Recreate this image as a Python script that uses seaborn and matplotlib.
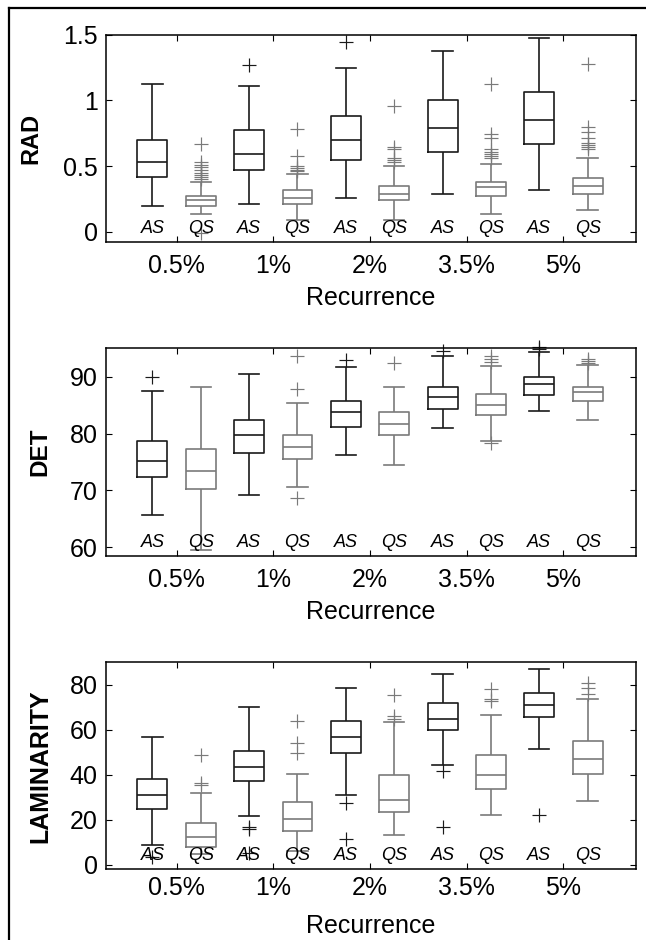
import pandas as pd
import seaborn as sns
import matplotlib.pyplot as plt
from matplotlib.lines import Line2D
from matplotlib.transforms import blended_transform_factory

# Recurrence levels and box positions (AS left, QS right in each pair)
recurrence = ['0.5%', '1%', '2%', '3.5%', '5%']
as_pos = [1, 3, 5, 7, 9]
qs_pos = [2, 4, 6, 8, 10]
group_ticks = [1.5, 3.5, 5.5, 7.5, 9.5]

# box stats per recurrence level: [whisker low, q1, median, q3, whisker high]
rad_as = [[0.20, 0.415, 0.533, 0.70, 1.125],
          [0.215, 0.47, 0.59, 0.776, 1.106],
          [0.26, 0.545, 0.70, 0.88, 1.244],
          [0.29, 0.605, 0.79, 1.00, 1.379],
          [0.32, 0.67, 0.852, 1.063, 1.477]]
rad_qs = [[0.136, 0.198, 0.239, 0.274, 0.38],
          [0.093, 0.214, 0.259, 0.319, 0.44],
          [0.093, 0.241, 0.289, 0.349, 0.50],
          [0.138, 0.274, 0.339, 0.379, 0.515],
          [0.168, 0.289, 0.352, 0.412, 0.565]]
rad_as_out = [[], [1.27], [1.445], [], []]
rad_qs_out = [[0.67, 0.53, 0.51, 0.49, 0.47, 0.45, 0.435, 0.415, 0.40, -0.01],
              [0.78, 0.575, 0.50, 0.485, 0.47, 0.46],
              [0.955, 0.646, 0.63, 0.565, 0.55, 0.53],
              [1.128, 0.746, 0.716, 0.628, 0.61, 0.595, 0.578, 0.56],
              [1.274, 0.80, 0.761, 0.711, 0.678, 0.66, 0.646, 0.628]]

det_as = [[65.6, 72.4, 75.2, 78.75, 87.5],
          [69.1, 76.5, 79.8, 82.3, 90.4],
          [76.2, 81.2, 83.7, 85.8, 91.7],
          [80.9, 84.4, 86.5, 88.2, 93.6],
          [84.0, 86.8, 88.7, 90.0, 94.4]]
det_qs = [[59.5, 70.2, 73.4, 77.3, 88.2],
          [70.6, 75.5, 77.7, 79.8, 85.4],
          [74.5, 79.8, 81.6, 83.7, 88.2],
          [78.7, 83.3, 85.1, 86.9, 91.9],
          [82.3, 85.8, 87.3, 88.2, 92.0]]
det_as_out = [[90.0], [], [92.9], [94.6], [95.2, 94.8]]
det_qs_out = [[], [93.7, 87.8, 68.6], [92.45], [93.6, 93.2, 92.5, 78.3],
              [93.2, 92.8, 92.45]]

lam_as = [[8.8, 24.6, 31.1, 38.0, 56.6],
          [21.9, 37.1, 43.4, 50.4, 70.0],
          [30.9, 49.6, 56.7, 63.9, 78.8],
          [44.2, 60.1, 64.8, 71.9, 85.0],
          [51.4, 65.5, 71.0, 76.3, 86.9]]
lam_qs = [[5.0, 7.8, 12.2, 18.4, 31.7],
          [6.0, 14.9, 20.2, 28.1, 40.5],
          [13.3, 23.6, 29.0, 39.8, 63.3],
          [22.1, 33.6, 39.9, 48.7, 66.4],
          [28.3, 40.5, 47.0, 54.9, 73.6]]
lam_as_out = [[3.5], [16.9, 15.8, 5.2], [27.5, 11.4], [41.5, 16.6], [22.1]]
lam_qs_out = [[48.7, 36.4, 35.6], [63.8, 54.0, 49.9], [75.5, 66.0, 64.8],
              [78.1, 73.6, 72.9], [81.0, 78.8, 75.8]]

AS_COLOR = '#1a1a1a'
QS_COLOR = '#7a7a7a'

plt.rcParams['font.family'] = ['Liberation Sans', 'DejaVu Sans']


def long_frame(values, positions):
    rows = [(p, v) for p, vals in zip(positions, values) for v in vals]
    return pd.DataFrame(rows, columns=['pos', 'val'])


def draw_panel(ax, as_box, qs_box, as_out, qs_out):
    for boxes, fliers, pos, col in [(as_box, as_out, as_pos, AS_COLOR),
                                    (qs_box, qs_out, qs_pos, QS_COLOR)]:
        sns.boxplot(data=long_frame(boxes, pos), x='pos', y='val', orient='x',
                    native_scale=True, fill=False, color=col, linewidth=1.2,
                    width=0.31, whis=(0, 100), ax=ax, capwidths=0.42)
        fl = long_frame(fliers, pos)
        if len(fl):
            sns.scatterplot(data=fl, x='pos', y='val', marker='+', s=90,
                            color=col, linewidth=0.85, ax=ax, clip_on=False,
                            legend=False)
    trans = blended_transform_factory(ax.transData, ax.transAxes)
    for p in as_pos:
        ax.text(p, 0.065, 'AS', transform=trans, ha='center', va='center',
                fontstyle='italic', fontsize=13)
    for p in qs_pos:
        ax.text(p, 0.065, 'QS', transform=trans, ha='center', va='center',
                fontstyle='italic', fontsize=13)
    ax.set_xlim(0.04, 11.0)
    ax.set_xticks(group_ticks, recurrence)
    ax.set_xlabel('Recurrence', fontsize=18)
    ax.xaxis.set_label_coords(0.5, -0.215)
    ax.tick_params(direction='in', top=True, right=True, length=4, width=0.8,
                   labelsize=18)
    ax.tick_params(axis='y', pad=6.0)
    for s in ax.spines.values():
        s.set_linewidth(1.1)
        s.set_color('black')


fig = plt.figure(figsize=(6.46, 9.4), dpi=100)

ax1 = fig.add_axes([0.1641, 0.7429, 0.8204, 0.2202])
draw_panel(ax1, rad_as, rad_qs, rad_as_out, rad_qs_out)
ax1.set_ylim(-0.075, 1.5)
ax1.set_yticks([0, 0.5, 1, 1.5], ['0', '0.5', '1', '1.5'])
ax1.set_ylabel('RAD', fontsize=17, fontweight='bold', va='center')
ax1.yaxis.set_label_coords(-0.142, 0.5)
ax1.tick_params(axis='x', pad=9.0)

ax2 = fig.add_axes([0.1641, 0.4088, 0.8204, 0.2207])
draw_panel(ax2, det_as, det_qs, det_as_out, det_qs_out)
ax2.set_ylim(58.5, 95)
ax2.set_yticks([60, 70, 80, 90])
ax2.set_ylabel('DET', fontsize=17.5, fontweight='bold', va='center')
ax2.yaxis.set_label_coords(-0.125, 0.5)
ax2.tick_params(axis='x', pad=8.5)

ax3 = fig.add_axes([0.1641, 0.0752, 0.8204, 0.2202])
draw_panel(ax3, lam_as, lam_qs, lam_as_out, lam_qs_out)
ax3.set_ylim(-2, 90)
ax3.set_yticks([0, 20, 40, 60, 80])
ax3.set_ylabel('LAMINARITY', fontsize=18, fontweight='bold', va='center')
ax3.yaxis.set_label_coords(-0.124, 0.5)
ax3.tick_params(axis='x', pad=5.0)

# frame of the cropped figure
fig.add_artist(Line2D([0.0132, 0.0132], [0.0, 0.9915], transform=fig.transFigure,
                      color='black', linewidth=1.6))
fig.add_artist(Line2D([0.0132, 1.0], [0.9915, 0.9915], transform=fig.transFigure,
                      color='black', linewidth=1.6))

fig.savefig('out.png', dpi=100)
